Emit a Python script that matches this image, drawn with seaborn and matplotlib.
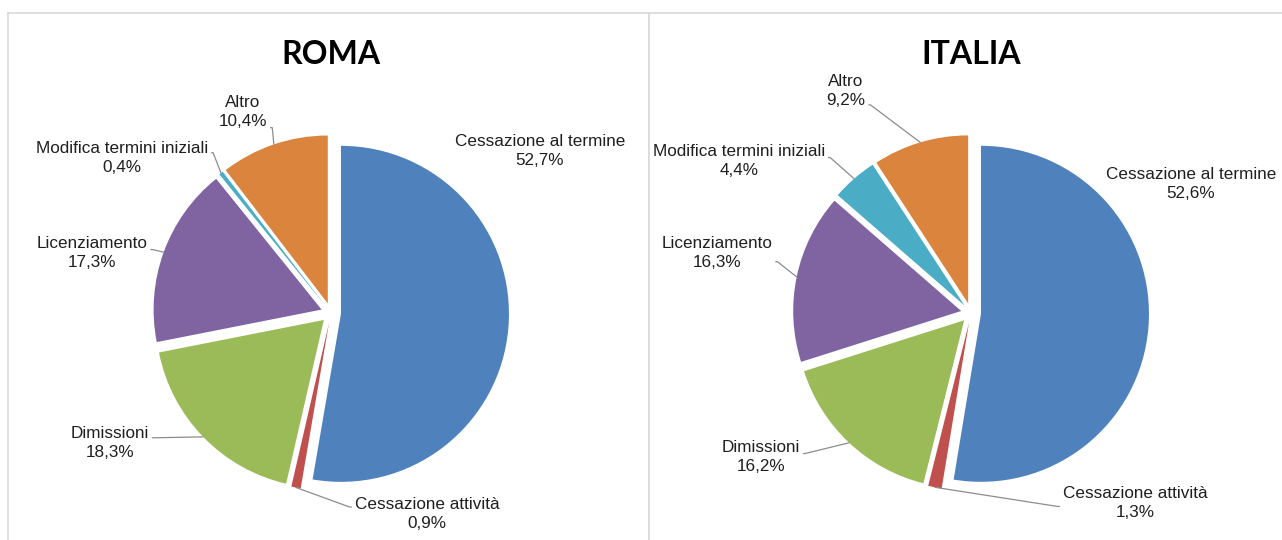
import matplotlib
matplotlib.use("Agg")
import matplotlib.pyplot as plt
import numpy as np
import seaborn as sns

# Motivi di cessazione dei rapporti di lavoro (% sul totale)
categories = [
    "Cessazione al termine",
    "Cessazione attività",
    "Dimissioni",
    "Licenziamento",
    "Modifica termini iniziali",
    "Altro",
]
roma_values = [52.7, 0.9, 18.3, 17.3, 0.4, 10.4]
italia_values = [52.6, 1.3, 16.2, 16.3, 4.4, 9.2]
panel_titles = ["ROMA", "ITALIA"]

slice_colors = sns.color_palette(
    ["#4F81BD", "#C0504D", "#9BBB59", "#8064A2", "#4BACC6", "#DB843D"]
)

# layout in pixel del canvas 1282x540 (y dall'alto)
W, H = 1282, 540
panel_x = [(8, 649), (649, 1290)]
panel_top = 13
pie_centers = [(331, 313), (971, 313)]
pie_radius = 168
explode_px = 10
title_y = 55
roma_label_xy = [(540, 151), (427, 514), (110, 443), (92, 253), (122, 158), (243, 112)]
italia_label_xy = [(1191, 184), (1135, 503), (761, 457), (717, 253), (739, 161), (846, 91)]
has_leader = [False, True, True, True, True, True]
# punto di attacco della linea guida sul box del testo (frazione verticale)
roma_leader_rely = [0.5, 0.7, 0.65, 0.6, 0.65, 0.05]
italia_leader_rely = [0.5, 0.4, 0.6, 0.25, 0.6, 0.1]

LABEL_FONT = ["Liberation Sans", "DejaVu Sans"]
TITLE_FONT = ["Lato", "DejaVu Sans"]


def fmt_pct(v):
    return f"{v:.1f}%".replace(".", ",")


def draw_panel(fig, idx, values, label_xy, leader_rely):
    x0, x1 = panel_x[idx]
    ax = fig.add_axes([x0 / W, 0, (x1 - x0) / W, (H - panel_top) / H])
    cx, cy = pie_centers[idx]
    cy = H - cy

    wedges, _ = ax.pie(
        values,
        colors=slice_colors,
        startangle=90,
        counterclock=False,
        explode=[explode_px] * len(values),
        radius=pie_radius,
        center=(cx, cy),
        wedgeprops=dict(linewidth=0),
    )
    ax.set_xlim(x0, x1)
    ax.set_ylim(0, H - panel_top)
    ax.set_aspect("auto")
    ax.set_frame_on(True)
    for side, sp in ax.spines.items():
        sp.set_color("#d9d9d9")
        sp.set_linewidth(1.2)
    ax.spines["bottom"].set_visible(False)
    if idx == 1:
        ax.spines["right"].set_visible(False)

    ax.text(cx, H - title_y, panel_titles[idx], ha="center", va="center",
            fontsize=23, fontweight="bold", family=TITLE_FONT, color="black")

    text_kw = dict(ha="center", va="center", multialignment="center",
                   fontsize=12.3, family=LABEL_FONT, color="#1f1f1f", linespacing=1.4)

    for w, cat, v, (lx, ly), lead, rely in zip(wedges, categories, values,
                                              label_xy, has_leader, leader_rely):
        ly = H - ly
        mid = np.deg2rad((w.theta1 + w.theta2) / 2)
        px = w.center[0] + w.r * np.cos(mid)
        py = w.center[1] + w.r * np.sin(mid)
        text = f"{cat}\n{fmt_pct(v)}"
        if lead:
            left = lx < px
            ax.annotate(
                text, xy=(px, py), xytext=(lx, ly),
                arrowprops=dict(
                    arrowstyle="-", color="#8c8c8c", lw=0.9,
                    shrinkA=0, shrinkB=0,
                    relpos=(1, rely) if left else (0, rely),
                    connectionstyle=f"arc,angleA={0 if left else 180},angleB=0,armA=5,armB=0,rad=0",
                ),
                **text_kw,
            )
        else:
            ax.text(lx, ly, text, **text_kw)


sns.set_style("white")
fig = plt.figure(figsize=(W / 100, H / 100), dpi=100)
draw_panel(fig, 0, roma_values, roma_label_xy, roma_leader_rely)
draw_panel(fig, 1, italia_values, italia_label_xy, italia_leader_rely)
fig.savefig("out.png", dpi=100, facecolor="white")
